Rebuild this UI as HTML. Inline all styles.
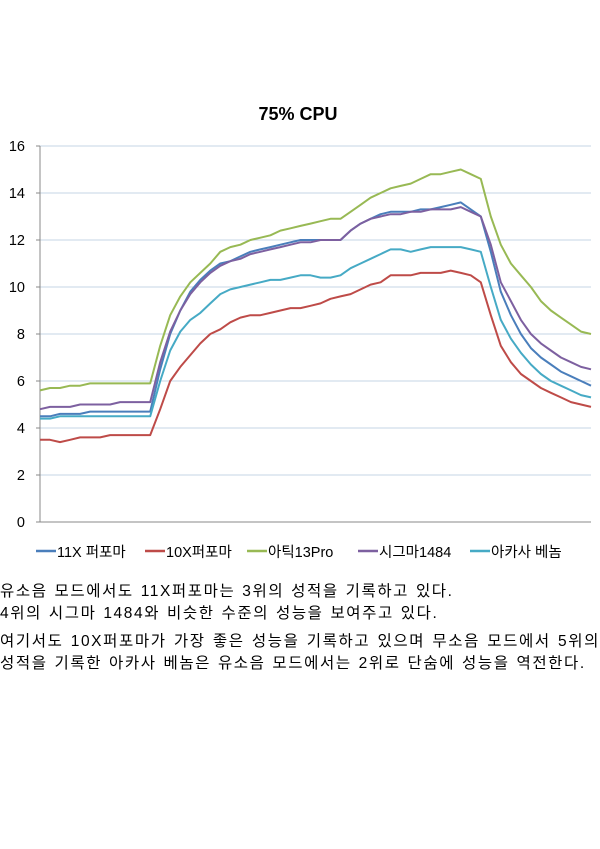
<!DOCTYPE html>
<html><head><meta charset="utf-8"><style>
body{margin:0;width:600px;height:849px;background:#fff;overflow:hidden;font-family:"Liberation Sans","Noto Sans CJK KR",sans-serif;}
.p{position:absolute;left:0;width:600px;font-size:15.5px;letter-spacing:1.6px;word-spacing:1px;line-height:21.5px;color:#000;text-align:justify;text-align-last:left;}
</style></head><body>
<svg width="600" height="570" style="position:absolute;left:0;top:0" id="chart"></svg>
<div class="p" style="top:581px">유소음 모드에서도 11X퍼포마는 3위의 성적을 기록하고 있다.<br>4위의 시그마 1484와 비슷한 수준의 성능을 보여주고 있다.</div>
<div class="p" style="top:631px">여기서도 10X퍼포마가 가장 좋은 성능을 기록하고 있으며 무소음 모드에서 5위의 성적을 기록한 아카사 베놈은 유소음 모드에서는 2위로 단숨에 성능을 역전한다.</div>
<script>
const yTicks=[0,2,4,6,8,10,12,14,16];
const seriesNames=["11X 퍼포마","10X퍼포마","아틱13Pro","시그마1484","아카사 베놈"];
const s11x=[4.5,4.5,4.6,4.6,4.6,4.7,4.7,4.7,4.7,4.7,4.7,4.7,6.5,8.0,9.0,9.8,10.3,10.7,11.0,11.1,11.3,11.5,11.6,11.7,11.8,11.9,12.0,12.0,12.0,12.0,12.0,12.4,12.7,12.9,13.1,13.2,13.2,13.2,13.3,13.3,13.4,13.5,13.6,13.3,13.0,11.5,9.8,8.8,8.0,7.4,7.0,6.7,6.4,6.2,6.0,5.8];
const s10x=[3.5,3.5,3.4,3.5,3.6,3.6,3.6,3.7,3.7,3.7,3.7,3.7,4.8,6.0,6.6,7.1,7.6,8.0,8.2,8.5,8.7,8.8,8.8,8.9,9.0,9.1,9.1,9.2,9.3,9.5,9.6,9.7,9.9,10.1,10.2,10.5,10.5,10.5,10.6,10.6,10.6,10.7,10.6,10.5,10.2,8.8,7.5,6.8,6.3,6.0,5.7,5.5,5.3,5.1,5.0,4.9];
const sArctic=[5.6,5.7,5.7,5.8,5.8,5.9,5.9,5.9,5.9,5.9,5.9,5.9,7.5,8.8,9.6,10.2,10.6,11.0,11.5,11.7,11.8,12.0,12.1,12.2,12.4,12.5,12.6,12.7,12.8,12.9,12.9,13.2,13.5,13.8,14.0,14.2,14.3,14.4,14.6,14.8,14.8,14.9,15.0,14.8,14.6,13.0,11.8,11.0,10.5,10.0,9.4,9.0,8.7,8.4,8.1,8.0];
const sSigma=[4.8,4.9,4.9,4.9,5.0,5.0,5.0,5.0,5.1,5.1,5.1,5.1,6.8,8.1,9.0,9.7,10.2,10.6,10.9,11.1,11.2,11.4,11.5,11.6,11.7,11.8,11.9,11.9,12.0,12.0,12.0,12.4,12.7,12.9,13.0,13.1,13.1,13.2,13.2,13.3,13.3,13.3,13.4,13.2,13.0,11.8,10.2,9.4,8.6,8.0,7.6,7.3,7.0,6.8,6.6,6.5];
const sVenom=[4.4,4.4,4.5,4.5,4.5,4.5,4.5,4.5,4.5,4.5,4.5,4.5,6.0,7.3,8.1,8.6,8.9,9.3,9.7,9.9,10.0,10.1,10.2,10.3,10.3,10.4,10.5,10.5,10.4,10.4,10.5,10.8,11.0,11.2,11.4,11.6,11.6,11.5,11.6,11.7,11.7,11.7,11.7,11.6,11.5,10.0,8.6,7.8,7.2,6.7,6.3,6.0,5.8,5.6,5.4,5.3];
const seriesData=[s11x,s10x,sArctic,sSigma,sVenom];
const colors=["#4a7ebb","#be4b48","#98b954","#7d60a0","#46aac5"];
const keys=["11x","10x","arctic","sigma","venom"];
const NS="http://www.w3.org/2000/svg";
const svg=document.getElementById("chart");
const X0=40,X1=591,Y0=522,Y1=146;
const yScale=v=>Y0-(v-0)/16*(Y0-Y1);
const xScale=i=>X0+i*(X1-X0)/(s11x.length-1);
function mk(tag,attrs){const e=document.createElementNS(NS,tag);for(const k in attrs)e.setAttribute(k,attrs[k]);svg.appendChild(e);return e;}
const title=mk("text",{x:298,y:120,"text-anchor":"middle","font-size":"18","font-weight":"bold"});


title.textContent="75% CPU";
yTicks.forEach(t=>{
  const y=yScale(t);
  const g=mk("line",{x1:X0,x2:X1,y1:y,y2:y,stroke:t===0?"#888":"#c6d4e6","stroke-width":1});
  
  
  const tk=mk("line",{x1:X0-4,x2:X0,y1:y,y2:y,stroke:"#888"});
  
  
  const lb=mk("text",{x:25,y:y+5,"text-anchor":"end","font-size":"14.5",fill:"#000"});
  
  
  lb.textContent=t;
});
const ax=mk("line",{x1:X0,x2:X0,y1:Y1,y2:Y0,stroke:"#888"});


seriesData.forEach((d,si)=>{
  const pts=d.map((v,i)=>xScale(i).toFixed(1)+","+yScale(v).toFixed(1)).join(" ");
  const pl=mk("polyline",{points:pts,fill:"none",stroke:colors[si],"stroke-width":2,"stroke-linejoin":"round"});
  
  
});
const legX=[36,145,247,358,470];
seriesNames.forEach((n,i)=>{
  const l=mk("line",{x1:legX[i],x2:legX[i]+20,y1:551,y2:551,stroke:colors[i],"stroke-width":2.5});
  
  
  const t=mk("text",{x:legX[i]+21,y:557,"font-size":"14.5",fill:"#000"});
  
  
  t.textContent=n;
});
</script>
</body></html>
